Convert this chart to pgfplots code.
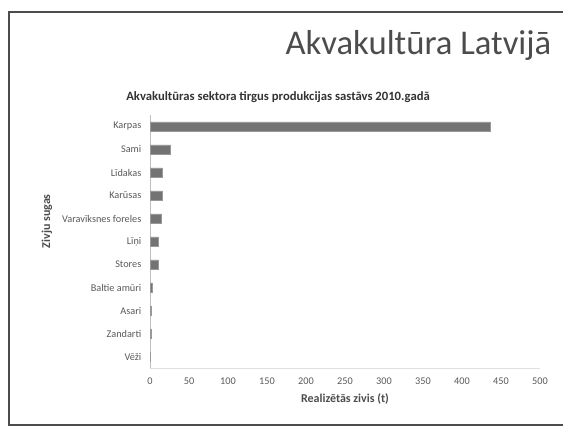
\documentclass[border=0pt]{standalone}
\usepackage{fontspec}
\setmainfont{Carlito}
\usepackage{pgfplots}
\pgfplotsset{compat=1.18}

\begin{document}
\begin{tikzpicture}[x=0.75pt,y=0.75pt]
% slide canvas (563 x 429 px)
\path[use as bounding box] (0,0) rectangle (563,429);
\draw[black!70, line width=1.5pt] (563,417) -- (9,417) -- (9,4) -- (563,4);
\node[anchor=east, font=\fontsize{26}{30}\selectfont, text=black!70] at (556,384) {Akvakultūra Latvijā};
\node[font=\bfseries\fontsize{9.5}{11}\selectfont, text=black!80] at (278,332) {Akvakultūras sektora tirgus produkcijas sastāvs 2010.gadā};

\begin{axis}[
  at={(112.5pt,45.75pt)}, anchor=south west,
  scale only axis,
  width=292.5pt, height=189.75pt,
  xbar, bar width=6.8pt,
  xmin=0, xmax=500,
  ymin=-0.5, ymax=10.5,
  y dir=reverse,
  xtick={0,50,...,500},
  ytick={0,...,10},
  yticklabels={Karpas, Sami, Līdakas, Karūsas, Varavīksnes foreles, Līņi, Stores, Baltie amūri, Asari, Zandarti, Vēži},
  axis x line*=bottom, axis y line*=left,
  x axis line style={draw=black!12},
  y axis line style={draw=black!25},
  major tick length=0pt,
  tick label style={font=\fontsize{7.7}{9}\selectfont, text=black!65},
  /pgf/number format/assume math mode=true,
  xticklabel style={yshift=-4pt},
  yticklabel style={xshift=-3pt},
  xlabel={Realizētās zivis (t)},
  ylabel={Zivju sugas},
  label style={font=\bfseries\fontsize{9}{10}\selectfont, text=black!70},
  xlabel style={at={(axis description cs:0.5,-0.123)}, anchor=center},
  ylabel style={at={(axis description cs:-0.264,0.58)}, anchor=center},
]
\addplot[fill=black!55, draw=black!40] coordinates {
  (436,0) (26,1) (16,2) (16,3) (15,4) (10,5) (10,6) (3,7) (1,8) (1,9) (0.3,10)
};
\end{axis}
\end{tikzpicture}
\end{document}
